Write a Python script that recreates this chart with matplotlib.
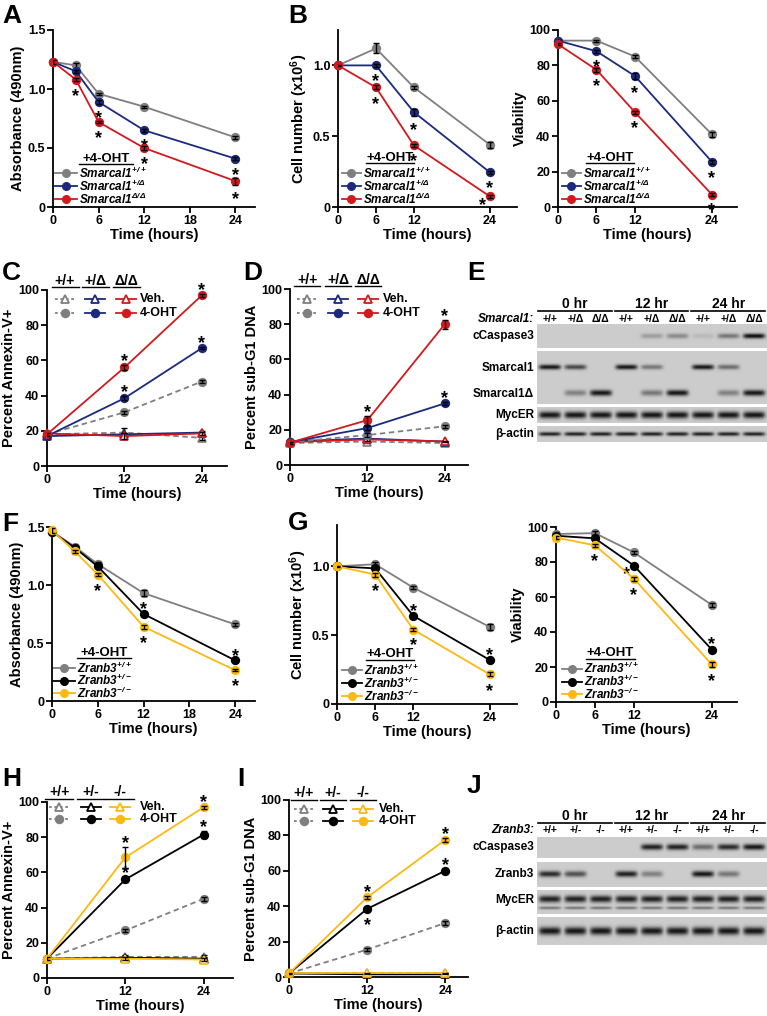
import matplotlib
matplotlib.use('Agg')
import matplotlib.pyplot as plt
import numpy as np

plt.rcParams['font.family'] = ['Liberation Sans', 'DejaVu Sans']
plt.rcParams['font.weight'] = 'bold'
plt.rcParams['axes.labelweight'] = 'bold'
plt.rcParams['mathtext.default'] = 'regular'
plt.rcParams['axes.linewidth'] = 1.3

# ---------------- data ----------------
t_abs = [0, 3, 6, 12, 24]
t_cell = [0, 6, 12, 24]
t_apo = [0, 12, 24]

sm_colors = ['#7f7f7f', '#1b2a7c', '#d11a1e']
zr_colors = ['#7f7f7f', '#000000', '#fdb913']
sm_labels = ['Smarcal1$^{+/+}$', 'Smarcal1$^{+/Δ}$', 'Smarcal1$^{Δ/Δ}$']
zr_labels = ['Zranb3$^{+/+}$', 'Zranb3$^{+/-}$', 'Zranb3$^{-/-}$']
sm_heads = ['+/+', '+/Δ', 'Δ/Δ']
zr_heads = ['+/+', '+/-', '-/-']

# A: absorbance, Smarcal1
a_vals = [[1.23, 1.20, 0.96, 0.85, 0.59],
          [1.23, 1.15, 0.89, 0.65, 0.41],
          [1.23, 1.08, 0.72, 0.50, 0.22]]
a_err = [[0.02, 0.02, 0.01, 0.01, 0.015],
         [0.02, 0.015, 0.015, 0.015, 0.015],
         [0.02, 0.015, 0.01, 0.015, 0.03]]
a_stars = [(2, 1, 'below'), (1, 2, 'below'), (2, 2, 'below'), (1, 3, 'below'),
           (2, 3, 'below'), (1, 4, 'below'), (2, 4, 'below')]

# B: cell number and viability, Smarcal1
b1_vals = [[1.0, 1.12, 0.845, 0.44],
           [1.0, 1.0, 0.67, 0.245],
           [1.0, 0.845, 0.435, 0.075]]
b1_err = [[0.005, 0.035, 0.01, 0.02],
          [0.005, 0.01, 0.025, 0.01],
          [0.005, 0.015, 0.01, 0.01]]
b1_stars = [(1, 1, 'below'), (2, 1, 'below'), (1, 2, 'below'), (2, 2, 'below'),
            (1, 3, 'below'), (2, 3, 'left')]
b2_vals = [[94, 94, 85, 41],
           [94, 88, 74, 25.5],
           [92, 77.5, 53.5, 7]]
b2_err = [[1, 0.5, 1, 1.2],
          [0.5, 0.8, 1.5, 1.2],
          [0.5, 1, 1, 0.8]]
b2_stars = [(1, 1, 'below'), (2, 1, 'below'), (1, 2, 'below'), (2, 2, 'below'),
            (1, 3, 'below'), (2, 3, 'below')]

# C: annexin-V, Smarcal1 (veh / 4-OHT)
c_veh = [[18, 19, 16], [17, 18, 19], [18.5, 17, 18.5]]
c_veh_err = [[1, 2.5, 1], [1, 1, 1], [1, 1.5, 1]]
c_oht = [[18, 30.5, 48], [17, 38.5, 67], [18, 56, 97]]
c_oht_err = [[1, 1, 0.8], [1, 1.2, 0.8], [1, 1.5, 0.8]]
c_stars = [(1, 1, 'above'), (2, 1, 'above'), (1, 2, 'above'), (2, 2, 'above')]

# D: sub-G1, Smarcal1
d_veh = [[12.5, 13.3, 12.5], [13.5, 15, 13.3], [13, 14.5, 13.4]]
d_veh_err = [[0.5, 1, 0.5], [0.5, 1, 0.5], [0.5, 1, 0.5]]
d_oht = [[13, 17, 22], [13, 21, 35], [12.7, 25.5, 80]]
d_oht_err = [[0.5, 1, 1], [0.5, 1, 1], [0.5, 2.5, 2.5]]
d_stars = [(2, 1, 'above'), (1, 2, 'above'), (2, 2, 'above')]

# F: absorbance, Zranb3
f_vals = [[1.46, 1.33, 1.18, 0.93, 0.66],
          [1.46, 1.32, 1.16, 0.75, 0.35],
          [1.47, 1.29, 1.09, 0.64, 0.265]]
f_err = [[0.02, 0.015, 0.015, 0.025, 0.01],
         [0.02, 0.015, 0.015, 0.015, 0.01],
         [0.02, 0.015, 0.015, 0.015, 0.01]]
f_stars = [(2, 2, 'below'), (1, 3, 'above'), (2, 3, 'below'), (1, 4, 'above'), (2, 4, 'below')]

# G: cell number and viability, Zranb3
g1_vals = [[1.0, 1.015, 0.845, 0.56],
           [1.0, 0.985, 0.64, 0.32],
           [1.0, 0.94, 0.54, 0.215]]
g1_err = [[0.005, 0.015, 0.01, 0.02],
          [0.005, 0.02, 0.01, 0.01],
          [0.005, 0.015, 0.01, 0.015]]
g1_stars = [(2, 1, 'below'), (1, 2, 'above'), (2, 2, 'below'), (1, 3, 'above'), (2, 3, 'below')]
g2_vals = [[96, 96.5, 85.5, 55.5],
           [95, 93.5, 78, 30],
           [94, 89.5, 70.5, 21.5]]
g2_err = [[1, 1, 1, 1.2],
          [1, 1, 1, 1],
          [1, 1, 1.2, 1.5]]
g2_stars = [(2, 1, 'below'), (1, 2, 'left'), (2, 2, 'below'), (1, 3, 'above'), (2, 3, 'below')]

# H: annexin-V, Zranb3
h_veh = [[11, 12, 12], [11, 11.5, 11], [11, 11, 10.5]]
h_veh_err = [[1, 1, 1], [1, 1, 1], [1, 1, 1]]
h_oht = [[11, 27, 45], [11, 56, 81.5], [11, 68.5, 97]]
h_oht_err = [[1, 1, 1], [1, 1.5, 2.2], [1, 6, 1]]
h_stars = [(2, 1, 'above'), (1, 1, 'above'), (2, 2, 'above'), (1, 2, 'above')]

# I: sub-G1, Zranb3
i_veh = [[2, 2, 2], [2, 1.5, 1.5], [2, 2, 2]]
i_veh_err = [[0.5, 0.5, 0.5], [0.5, 0.5, 0.5], [0.5, 0.5, 0.5]]
i_oht = [[2, 15.5, 30.5], [2, 38.5, 60], [2, 45, 77.5]]
i_oht_err = [[0.5, 0.8, 1], [0.5, 1, 1], [0.5, 1, 1]]
i_stars = [(2, 1, 'above'), (1, 1, 'below'), (2, 2, 'above'), (1, 2, 'above')]

# E / J: western blots, band intensity per lane (0, 12, 24 hr x 3 genotypes)
blot_groups = ['0 hr', '12 hr', '24 hr']
e_casp = [0, 0, 0, 0, 0.25, 0.35, 0.1, 0.45, 1.0]
e_smarcal = [0.95, 0.7, 0, 0.95, 0.45, 0, 0.95, 0.5, 0]
e_smarcal_d = [0, 0.4, 0.95, 0, 0.45, 0.95, 0, 0.4, 0.95]
e_myc = [0.95] * 9
e_actin = [0.9] * 9
j_casp = [0, 0, 0, 0, 0.9, 0.9, 0.5, 0.85, 0.95]
j_zranb = [0.85, 0.65, 0, 0.9, 0.4, 0, 0.95, 0.45, 0]
j_myc = [0.9] * 9
j_myc_low = [0.45] * 9
j_actin = [0.95] * 9

# ---------------- figure ----------------
W, H = 767, 1016
fig = plt.figure(figsize=(W / 100, H / 100), dpi=100)


def add_ax(l, t, r, b):
    return fig.add_axes([l / W, 1 - b / H, (r - l) / W, (b - t) / H])


def style(ax, xmax, ylim, xticks, yticks, ylabel, yfmt=None):
    ax.set_xlim(0, xmax)
    ax.set_ylim(*ylim)
    ax.set_xticks(xticks)
    ax.set_yticks(yticks)
    if yfmt:
        ax.set_yticklabels(yfmt)
    ax.spines[['top', 'right']].set_visible(False)
    ax.tick_params(width=1.3, length=4, labelsize=9, pad=1.5)
    ax.set_ylabel(ylabel, fontsize=10.5, labelpad=2)
    ax.set_xlabel('Time (hours)', fontsize=10.5, labelpad=1)


def series(ax, t, y, e, color, marker='o', ls='-', mfc=None, z=3):
    ax.plot(t, y, color=color, ls=ls, lw=1.3, marker=marker, ms=5.5,
            mfc=mfc if mfc else color, mec=color, mew=1.2, clip_on=False, zorder=z)
    ax.errorbar(t, y, yerr=e, fmt='none', ecolor='k', elinewidth=1,
                capsize=2.3, capthick=1, zorder=z + 0.5)


def stars(ax, t, vals, errs, spec):
    for si, ti, pos in spec:
        x, y, e = t[ti], vals[si][ti], errs[si][ti]
        if pos == 'above':
            ax.annotate('*', (x, y + e), xytext=(0, -1), textcoords='offset points',
                        ha='center', va='baseline', fontsize=13)
        elif pos == 'below':
            ax.annotate('*', (x, y - e), xytext=(0, -14), textcoords='offset points',
                        ha='center', va='baseline', fontsize=13)
        else:
            ax.annotate('*', (x, y), xytext=(-3, -10), textcoords='offset points',
                        ha='right', va='baseline', fontsize=13)


def geno_legend(ax, labels, colors, x0=0.02, tx=0.29, ty=0.26):
    tr = ax.transAxes
    ax.text(tx, ty, '+4-OHT', transform=tr, ha='center', va='baseline', fontsize=9.5)
    ax.plot([tx - 0.135, tx + 0.135], [ty - 0.014] * 2, color='k', lw=1,
            transform=tr, clip_on=False)
    for i, (lab, c) in enumerate(zip(labels, colors)):
        y = 0.19 - i * 0.073
        ax.plot([x0, x0 + 0.11], [y, y], color=c, lw=1.3, transform=tr, clip_on=False)
        ax.plot([x0 + 0.055], [y], marker='o', ms=5.5, color=c, transform=tr, clip_on=False)
        ax.text(x0 + 0.12, y, lab, transform=tr, ha='left', va='center',
                fontsize=8.5, style='italic')


def treat_legend(ax, heads, colors, xs, xt, yh, rows):
    tr = ax.transAxes
    for h, c, x, k in zip(heads, colors, xs, range(3)):
        ax.text(x, yh, h, transform=tr, ha='center', va='baseline', fontsize=10)
        ax.plot([x - 0.075, x + 0.075], [yh - 0.015] * 2, color='k', lw=1,
                transform=tr, clip_on=False)
        ls = (0, (1.5, 1.5)) if k == 0 else '-'
        for y, m, fc in [(rows[0], '^', 'white'), (rows[1], 'o', c)]:
            ax.plot([x - 0.055, x + 0.055], [y, y], color=c, ls=ls, lw=1.3,
                    transform=tr, clip_on=False)
            ax.plot([x], [y], marker=m, ms=5.5, mfc=fc, mec=c, mew=1.3,
                    transform=tr, clip_on=False)
    ax.text(xt, rows[0], 'Veh.', transform=tr, ha='left', va='center', fontsize=9)
    ax.text(xt, rows[1], '4-OHT', transform=tr, ha='left', va='center', fontsize=9)


def line_panel(ax, t, vals, errs, colors):
    for k in range(3):
        series(ax, t, vals[k], errs[k], colors[k], z=3 + k)


def apo_panel(ax, veh, veh_e, oht, oht_e, colors):
    for k in range(3):
        ls = (0, (3, 2)) if k == 0 else '-'
        series(ax, t_apo, veh[k], veh_e[k], colors[k], marker='^', ls=ls,
               mfc='white', z=3 + k)
    for k in range(3):
        ls = (0, (3, 2)) if k == 0 else '-'
        series(ax, t_apo, oht[k], oht_e[k], colors[k], ls=ls, z=6 + k)


# A
ax = add_ax(53, 30, 255, 207)
line_panel(ax, t_abs, a_vals, a_err, sm_colors)
stars(ax, t_abs, a_vals, a_err, a_stars)
style(ax, 26.6, (0, 1.5), [0, 6, 12, 18, 24], [0, 0.5, 1.0, 1.5],
      'Absorbance (490nm)', ['0', '0.5', '1.0', '1.5'])
geno_legend(ax, sm_labels, sm_colors, x0=0.01, tx=0.262, ty=0.255)

# B left
ax = add_ax(338, 30, 517, 207)
line_panel(ax, t_cell, b1_vals, b1_err, sm_colors)
stars(ax, t_cell, b1_vals, b1_err, b1_stars)
style(ax, 28.3, (0, 1.25), [0, 6, 12, 24], [0, 0.5, 1.0],
      'Cell number (x10$^6$)', ['0', '0.5', '1.0'])
geno_legend(ax, sm_labels, sm_colors)

# B right
ax = add_ax(558, 30, 737, 207)
line_panel(ax, t_cell, b2_vals, b2_err, sm_colors)
stars(ax, t_cell, b2_vals, b2_err, b2_stars)
style(ax, 27.9, (0, 100), [0, 6, 12, 24], [0, 20, 40, 60, 80, 100], 'Viability')
geno_legend(ax, sm_labels, sm_colors)

# C
ax = add_ax(47, 290, 227, 466)
apo_panel(ax, c_veh, c_veh_err, c_oht, c_oht_err, sm_colors)
stars(ax, t_apo, c_oht, c_oht_err, c_stars)
style(ax, 27.9, (0, 100), [0, 12, 24], [0, 20, 40, 60, 80, 100], 'Percent Annexin-V+')
treat_legend(ax, sm_heads, sm_colors, [0.10, 0.268, 0.44], 0.515, 1.03, [0.949, 0.869])

# D
ax = add_ax(290, 289, 468, 465)
apo_panel(ax, d_veh, d_veh_err, d_oht, d_oht_err, sm_colors)
stars(ax, t_apo, d_oht, d_oht_err, d_stars)
style(ax, 27.6, (0, 100), [0, 12, 24], [0, 20, 40, 60, 80, 100], 'Percent sub-G1 DNA')
treat_legend(ax, sm_heads, sm_colors, [0.096, 0.27, 0.438], 0.52, 1.03, [0.943, 0.865])

# F
ax = add_ax(52, 527, 255, 701)
line_panel(ax, t_abs, f_vals, f_err, zr_colors)
stars(ax, t_abs, f_vals, f_err, f_stars)
style(ax, 26.6, (0, 1.5), [0, 6, 12, 18, 24], [0, 0.5, 1.0, 1.5],
      'Absorbance (490nm)', ['0', '0.5', '1.0', '1.5'])
geno_legend(ax, zr_labels, zr_colors, x0=0.005, tx=0.256, ty=0.26)

# G left
ax = add_ax(337, 525, 517, 704)
line_panel(ax, t_cell, g1_vals, g1_err, zr_colors)
stars(ax, t_cell, g1_vals, g1_err, g1_stars)
style(ax, 28.3, (0, 1.3), [0, 6, 12, 24], [0, 0.5, 1.0],
      'Cell number (x10$^6$)', ['0', '0.5', '1.0'])
geno_legend(ax, zr_labels, zr_colors, x0=0.028, tx=0.294, ty=0.262)

# G right
ax = add_ax(556, 527, 737, 702)
line_panel(ax, t_cell, g2_vals, g2_err, zr_colors)
stars(ax, t_cell, g2_vals, g2_err, g2_stars)
style(ax, 27.9, (0, 100), [0, 6, 12, 24], [0, 20, 40, 60, 80, 100], 'Viability')
geno_legend(ax, zr_labels, zr_colors, x0=0.033, tx=0.3, ty=0.26)

# H
ax = add_ax(47, 802, 233, 978)
apo_panel(ax, h_veh, h_veh_err, h_oht, h_oht_err, zr_colors)
stars(ax, t_apo, h_oht, h_oht_err, h_stars)
style(ax, 28.5, (0, 100), [0, 12, 24], [0, 20, 40, 60, 80, 100], 'Percent Annexin-V+')
treat_legend(ax, zr_heads, zr_colors, [0.065, 0.236, 0.392], 0.5, 1.034, [0.97, 0.905])

# I
ax = add_ax(289, 800, 468, 977)
apo_panel(ax, i_veh, i_veh_err, i_oht, i_oht_err, zr_colors)
stars(ax, t_apo, i_oht, i_oht_err, i_stars)
style(ax, 27.5, (0, 100), [0, 12, 24], [0, 20, 40, 60, 80, 100], 'Percent sub-G1 DNA')
treat_legend(ax, zr_heads, zr_colors, [0.084, 0.246, 0.413], 0.5, 1.015, [0.95, 0.88])


# ---------------- blots ----------------
LANE = 230 / 9


def strip(ax, top, bottom, bands, bg=0.8):
    ys = np.linspace(top, bottom, int((bottom - top) * 3))
    xs = np.linspace(0, 230, 690)
    dark = np.zeros((len(ys), len(xs)))
    for cy, th, inten in bands:
        vy = np.exp(-((ys - cy) / (th / 2)) ** 2)
        for i, v in enumerate(inten):
            if v <= 0:
                continue
            hx = np.exp(-((xs - (i + 0.5) * LANE) / 11) ** 6)
            dark = np.maximum(dark, v * np.outer(vy, hx))
    img = bg * (1 - dark) + 0.05 * dark
    ax.imshow(img, extent=(0, 230, bottom, top), cmap='gray', vmin=0, vmax=1,
              aspect='auto', interpolation='bilinear')


def blot(top, bottom, gene, lanes, y_grp, y_lane, strips, labels):
    ax = add_ax(537, top, 767, bottom)
    for s in strips:
        strip(ax, *s)
    ax.set_xlim(0, 230)
    ax.set_ylim(bottom, top)
    ax.axis('off')
    for g, name in enumerate(blot_groups):
        x0, x1 = g * 3 * LANE + 1, (g + 1) * 3 * LANE - 2
        ax.text((x0 + x1) / 2, y_grp, name, ha='center', va='baseline', fontsize=10)
        ax.plot([x0, x1], [y_grp + 2.5] * 2, color='k', lw=1.2, clip_on=False)
    for i in range(9):
        ax.text((i + 0.5) * LANE, y_lane, lanes[i % 3], ha='center', va='center', fontsize=7.5)
    ax.text(-3, y_lane, gene + ':', ha='right', va='center', fontsize=8.5, style='italic')
    for lab, y in labels:
        ax.text(-3, y, lab, ha='right', va='center', fontsize=8.5)


blot(295, 445, 'Smarcal1', sm_heads, 308, 319,
     [(324, 348, [(336, 5, e_casp)]),
      (351, 404, [(367, 5, e_smarcal), (393, 6, e_smarcal_d)]),
      (407, 423, [(415, 7, e_myc)]),
      (426, 442, [(434, 4, e_actin)])],
     [('cCaspase3', 336), ('Smarcal1', 368), ('Smarcal1Δ', 394),
      ('MycER', 415), ('β-actin', 434)])

blot(805, 946, 'Zranb3', zr_heads, 820, 830,
     [(837, 858, [(847, 6, j_casp)]),
      (862, 887, [(874, 6, j_zranb)]),
      (890, 914, [(899, 7, j_myc), (908, 3, j_myc_low)]),
      (917, 945, [(931, 8, j_actin)])],
     [('cCaspase3', 847), ('Zranb3', 874), ('MycER', 900), ('β-actin', 931)])

# panel letters
for letter, x, y in [('A', 2, 4), ('B', 288, 4), ('C', 2, 261), ('D', 243, 261),
                     ('E', 467, 261), ('F', 2, 512), ('G', 288, 511), ('H', 2, 767),
                     ('I', 237, 767), ('J', 467, 774)]:
    fig.text(x / W, 1 - y / H, letter, ha='left', va='top', fontsize=19)

fig.savefig('out.png', dpi=100)
